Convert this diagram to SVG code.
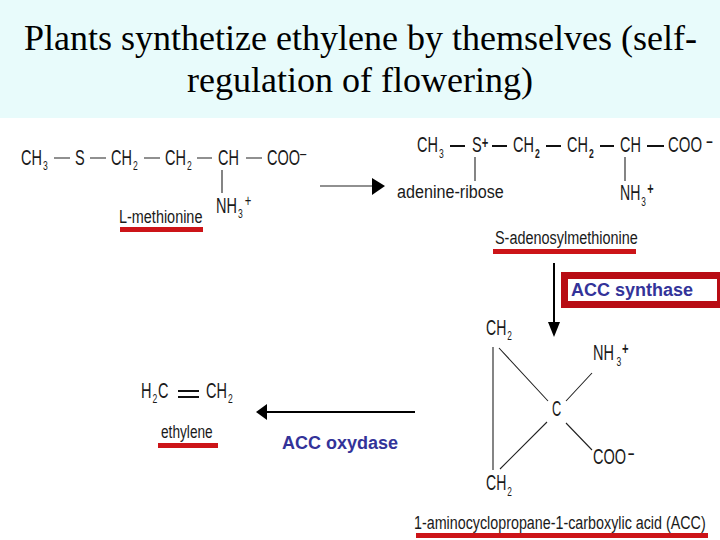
<svg xmlns="http://www.w3.org/2000/svg" width="720" height="540" viewBox="0 0 720 540">
<style>
text{font-family:"Liberation Sans",Arial,sans-serif;fill:#1a1a1a}
.t{font-family:"Liberation Serif",serif;font-size:35px;fill:#000}
.c{font-size:22px}
.s{font-size:13px}
.p{font-size:17px}
.l{font-size:19px}
.e{font-size:17.500px;font-weight:700;fill:#333399}
.w{font-weight:700}
.b{fill:#cc1418}
.h{fill:#000}
.k{stroke:#222;stroke-width:1.1;fill:none}
.n{stroke:#111;stroke-width:1.8;fill:none}
.m{stroke:#000;stroke-width:2;fill:none}
</style>
<rect width="720" height="540" fill="#fff"/>
<g id="title">
<rect width="720" height="118" fill="#e8fbfb"/>
<text class="t" x="24" y="50" textLength="673" lengthAdjust="spacingAndGlyphs">Plants synthetize ethylene by themselves (self-</text>
<text class="t" x="187" y="92" textLength="346" lengthAdjust="spacingAndGlyphs">regulation of flowering)</text>
</g>
<g id="connectors">
<path class="k" d="M54 158H70M90 158H106M144 158H160M197 158H212M246 158H262M222 170V193"/>
<path class="n" d="M450 146H465M492 146H507M546 146H561M600 146H614M647 146H664"/>
<path class="k" d="M475 157V181M625 157V181"/>
<path class="k" d="M493 347V470M499 348L548 401M500 469L547 422M566 401L592 373M566 423L592 450"/>
<path class="n" d="M178 391H199M178 397H199"/>
<path class="k" d="M320 186H372"/>
<path class="h" d="M372 178L385 186L372 195Z"/>
<path class="m" d="M554 263V323"/>
<path class="h" d="M548 322H560L554 337Z"/>
<path class="m" d="M267 412H415"/>
<path class="h" d="M256 412L267 404V420Z"/>
</g>
<g id="methionine">
<text class="c" transform="translate(21 165) scale(.66 1)">CH<tspan class="s" dx="1.500" dy="5">3</tspan></text>
<text class="c" transform="translate(75 165) scale(.66 1)">S</text>
<text class="c" transform="translate(111 165) scale(.66 1)">CH<tspan class="s" dx="1.500" dy="5">2</tspan></text>
<text class="c" transform="translate(165 165) scale(.66 1)">CH<tspan class="s" dx="1.500" dy="5">2</tspan></text>
<text class="c" transform="translate(218 165) scale(.66 1)">CH</text>
<text class="c" transform="translate(267 165) scale(.66 1)">COO<tspan class="p" dy="-6">–</tspan></text>
<text class="c" transform="translate(216 213) scale(.66 1)">NH<tspan class="s" dx="1.500" dy="5">3</tspan><tspan class="p" dx="3" dy="-12">+</tspan></text>
<text class="l" transform="translate(119 223) scale(.76 1)">L-methionine</text>
<rect class="b" x="120" y="227" width="83" height="5"/>
</g>
<g id="sam">
<text class="c" transform="translate(417 152) scale(.66 1)">CH<tspan class="s" dx="1.500" dy="6">3</tspan></text>
<text class="c" transform="translate(472 152) scale(.66 1)">S<tspan class="p w" dy="-4">+</tspan></text>
<text class="c" transform="translate(513 152) scale(.66 1)">CH<tspan class="s w" dx="1.500" dy="6">2</tspan></text>
<text class="c" transform="translate(567 152) scale(.66 1)">CH<tspan class="s w" dx="1.500" dy="6">2</tspan></text>
<text class="c" transform="translate(620 152) scale(.66 1)">CH</text>
<text class="c" transform="translate(668 152) scale(.68 1)">COO<tspan class="p w" dx="6" dy="-5">–</tspan></text>
<text class="l" transform="translate(397 198) scale(.85 1)">adenine-ribose</text>
<text class="c" transform="translate(620 200) scale(.64 1)">NH<tspan class="s" dx="1.500" dy="6">3</tspan><tspan class="p w" dx="2" dy="-12">+</tspan></text>
<text class="l" transform="translate(495 244) scale(.76 1)">S-adenosylmethionine</text>
<rect class="b" x="493" y="249" width="143" height="5"/>
</g>
<g id="acc-synthase">
<rect x="561" y="272" width="159" height="36" fill="#b80c14"/>
<rect x="568" y="279" width="149" height="22" fill="#fff"/>
<text class="e" x="571" y="296" textLength="122" lengthAdjust="spacingAndGlyphs">ACC synthase</text>
</g>
<g id="acc">
<text class="c" transform="translate(486 335) scale(.64 1)">CH<tspan class="s" dx="1.500" dy="5">2</tspan></text>
<text class="c" transform="translate(552 416) scale(.58 1)">C</text>
<text class="c" transform="translate(593 360) scale(.66 1)">NH<tspan class="s" dx="4" dy="6">3</tspan><tspan class="p w" dx="1" dy="-12">+</tspan></text>
<text class="c" transform="translate(593 464) scale(.66 1)">COO<tspan class="p w" dx="3" dy="-5">–</tspan></text>
<text class="c" transform="translate(486 490) scale(.64 1)">CH<tspan class="s" dx="1.500" dy="6">2</tspan></text>
<text class="l" style="font-size:18px" transform="translate(414 529) scale(.795 1)">1-aminocyclopropane-1-carboxylic acid (ACC)</text>
<rect class="b" x="416" y="533" width="292" height="5"/>
</g>
<g id="ethylene">
<text class="c" transform="translate(141 398) scale(.66 1)">H<tspan class="s" dx="1.500" dy="5">2</tspan><tspan dx="1" dy="-5">C</tspan></text>
<text class="c" transform="translate(206 398) scale(.66 1)">CH<tspan class="s" dx="1.500" dy="5">2</tspan></text>
<text class="l" transform="translate(161 438) scale(.72 1)">ethylene</text>
<rect class="b" x="158" y="443" width="60" height="5"/>
</g>
<g id="acc-oxydase">
<text class="e" x="282" y="449" textLength="116" lengthAdjust="spacingAndGlyphs">ACC oxydase</text>
</g>
</svg>
